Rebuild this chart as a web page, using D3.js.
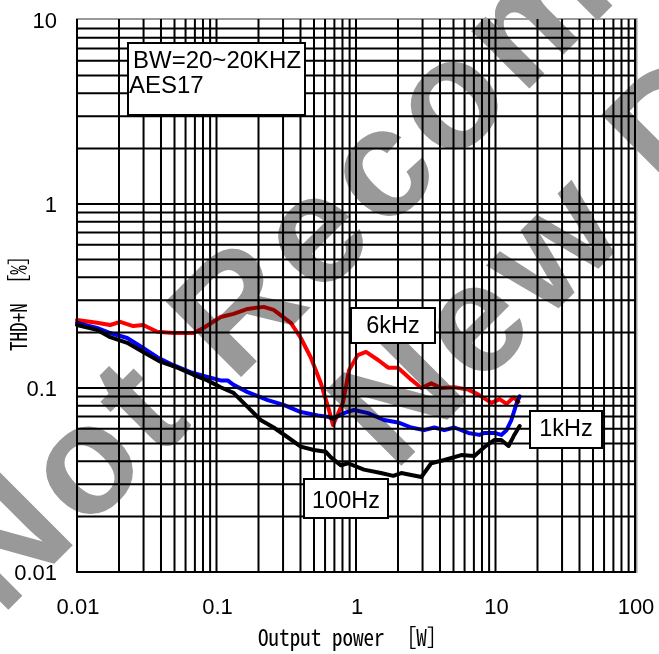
<!DOCTYPE html>
<html><head><meta charset="utf-8">
<script src="https://cdn.jsdelivr.net/npm/d3@7"></script>
<style>body{margin:0;background:#fff} svg{display:block}</style>
</head><body><svg id="c" width="659" height="654"></svg>
<script>
// ---- data ----
const xTickValues = [0.01, 0.1, 1, 10, 100];
const xTickLabels = ["0.01", "0.1", "1", "10", "100"];
const yTickValues = [0.01, 0.1, 1, 10];
const yTickLabels = ["0.01", "0.1", "1", "10"];

const power6k = [0.01,0.0139,0.0173,0.0204,0.0253,0.0298,0.0376,0.0491,0.0683,0.0806,0.107,0.1325,0.167,0.218,0.257,0.341,0.402,0.475,0.56,0.64,0.684,0.806,0.891,1.03,1.18,1.44,1.70,2.0,2.49,2.94,3.46,4.09,5.07,6.39,7.55,9.36,10.7,12.0,13.5,14.6];
const thd6k = [0.234,0.226,0.22,0.229,0.217,0.22,0.202,0.199,0.199,0.212,0.243,0.253,0.269,0.276,0.266,0.226,0.187,0.146,0.106,0.076,0.063,0.083,0.125,0.151,0.157,0.142,0.129,0.129,0.111,0.1,0.106,0.1,0.101,0.098,0.092,0.083,0.087,0.082,0.089,0.084];

const power1k = [0.01,0.0139,0.0173,0.0229,0.0298,0.0376,0.0491,0.065,0.0861,0.107,0.12,0.1325,0.167,0.233,0.303,0.402,0.533,0.64,0.684,0.82,0.968,1.22,1.59,2.0,2.49,3.08,3.64,4.3,5.07,6.39,7.67,8.34,9.84,11.0,12.0,13.0,14.2,14.9];
const thd1k = [0.226,0.212,0.199,0.187,0.165,0.147,0.133,0.122,0.115,0.11,0.11,0.104,0.095,0.086,0.081,0.074,0.071,0.0695,0.068,0.073,0.076,0.073,0.067,0.065,0.061,0.059,0.061,0.059,0.061,0.057,0.0556,0.057,0.057,0.0556,0.059,0.067,0.083,0.09];

const power100 = [0.01,0.0139,0.0173,0.0229,0.0298,0.0396,0.0524,0.0683,0.0861,0.107,0.1325,0.167,0.207,0.257,0.324,0.402,0.499,0.608,0.661,0.78,0.876,1.14,1.51,1.85,2.11,2.94,3.46,4.3,5.69,7.06,8.34,9.84,11.0,12.4,13.5,14.9];
const thd100 = [0.22,0.207,0.189,0.176,0.157,0.139,0.129,0.118,0.11,0.101,0.094,0.079,0.067,0.061,0.054,0.048,0.046,0.045,0.042,0.038,0.039,0.036,0.0345,0.0333,0.0345,0.0328,0.039,0.0406,0.0432,0.0427,0.0478,0.0522,0.0522,0.0484,0.0548,0.0621];

const seriesNames = ["1kHz", "100Hz", "6kHz"];
const seriesColors = ["#0000ff", "#000000", "#ff0000"];
const infoLines = ["BW=20~20KHZ", "AES17"];
const watermarkLines = ["Not Recommended", "New Design"];
const xTitle = "Output power ［W］";
const yTitle = "THD+N ［%］";

// ---- chart ----
const svg = d3.select("#c");
const L = 77, R = 635, T = 20, B = 572;
const x = d3.scaleLog().domain([0.01, 100]).range([L, R]);
const y = d3.scaleLog().domain([0.01, 10]).range([B, T]);

svg.append("rect").attr("width", 659).attr("height", 654).attr("fill", "#fff");

// watermark
const wm = svg.append("g").attr("fill", "#999")
  .style("font-family", "'Liberation Sans', Arial, sans-serif")
  .style("font-weight", "bold").style("font-size", "155px").style("letter-spacing", "7px");
const wmPos = [[1, 617], [394, 473]];
watermarkLines.forEach((t, i) => {
  wm.append("text").attr("transform", `translate(${wmPos[i][0]},${wmPos[i][1]}) rotate(-45)`).text(t);
});

// frame
svg.append("rect").attr("x", L).attr("y", T - 1).attr("width", R - L + 1.5).attr("height", B - T + 1)
  .attr("fill", "none").attr("stroke", "#999").attr("stroke-width", 2);

// grid
const decadesX = [0.01, 0.1, 1, 10];
const gridX = [];
decadesX.forEach(d => { for (let k = 1; k <= 9; k++) gridX.push(d * k); });
gridX.push(100);
const decadesY = [0.01, 0.1, 1];
const gridY = [];
decadesY.forEach(d => { for (let k = 1; k <= 9; k++) gridY.push(d * k); });

const grid = svg.append("g").attr("stroke", "#000").attr("stroke-width", 2);
grid.selectAll("line.gx").data(gridX).join("line")
  .attr("x1", d => x(d)).attr("x2", d => x(d)).attr("y1", T - 1).attr("y2", B + 1);
grid.selectAll("line.gy").data(gridY).join("line")
  .attr("y1", d => y(d)).attr("y2", d => y(d)).attr("x1", L - 1).attr("x2", R + 1);

// curves
const line = d3.line().x(d => x(d[0])).y(d => y(d[1]));
const seriesData = [d3.zip(power1k, thd1k), d3.zip(power100, thd100), d3.zip(power6k, thd6k)];
seriesData.forEach((s, i) => {
  svg.append("path").datum(s).attr("d", line).attr("fill", "none")
    .attr("stroke", seriesColors[i]).attr("stroke-width", 4)
    .attr("stroke-linejoin", "round").attr("stroke-linecap", "round")
    .style("mix-blend-mode", "multiply");
});

// tick labels
const tf = "'Liberation Sans', Arial, sans-serif";
svg.append("g").selectAll("text").data(xTickValues).join("text")
  .attr("x", d => x(d) + 1).attr("y", 614).attr("text-anchor", "middle")
  .style("font-family", tf).style("font-size", "22px").text((d, i) => xTickLabels[i]);
svg.append("g").selectAll("text").data(yTickValues).join("text")
  .attr("x", 57).attr("y", d => y(d) + 8).attr("text-anchor", "end")
  .style("font-family", tf).style("font-size", "22px").text((d, i) => yTickLabels[i]);

// axis titles
const mono = "'Noto Sans Mono CJK JP', 'Noto Sans CJK JP', 'DejaVu Sans Mono', monospace";
svg.append("text").attr("x", 258).attr("y", 646)
  .attr("textLength", 190).attr("lengthAdjust", "spacingAndGlyphs")
  .style("font-family", mono).style("font-size", "23px").text(xTitle);
svg.append("text").attr("transform", "translate(27,351) rotate(-90)")
  .attr("textLength", 105).attr("lengthAdjust", "spacingAndGlyphs")
  .style("font-family", mono).style("font-size", "23px").text(yTitle);

// annotation boxes
function box(x0, y0, w, h) {
  svg.append("rect").attr("x", x0).attr("y", y0).attr("width", w).attr("height", h)
    .attr("fill", "#fff").attr("stroke", "#000").attr("stroke-width", 2);
}
box(128, 43, 177, 72);
svg.append("text").attr("x", 133).attr("y", 68).style("font-family", tf).style("font-size", "24px").text(infoLines[0]);
svg.append("text").attr("x", 129).attr("y", 93).style("font-family", tf).style("font-size", "24px").text(infoLines[1]);

const labelBoxes = [
  {name: seriesNames[2], x0: 351, y0: 308, w: 84, h: 35, ty: 333},
  {name: seriesNames[0], x0: 530, y0: 411, w: 72, h: 37, ty: 436},
  {name: seriesNames[1], x0: 304, y0: 479, w: 84, h: 39, ty: 508}
];
labelBoxes.forEach(b => {
  box(b.x0, b.y0, b.w, b.h);
  svg.append("text").attr("x", b.x0 + b.w / 2).attr("y", b.ty).attr("text-anchor", "middle")
    .style("font-family", tf).style("font-size", "23.5px").text(b.name);
});
</script></body></html>
